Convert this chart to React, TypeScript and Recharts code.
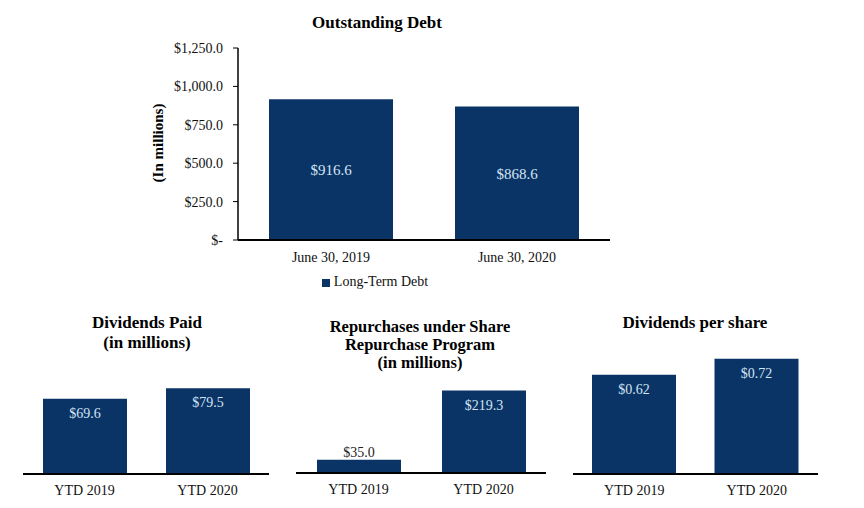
import React from 'react';
import { BarChart, Bar, XAxis, YAxis, LabelList, Legend } from 'recharts';

const debtDates = ['June 30, 2019', 'June 30, 2020'];
const debtValues = [916.6, 868.6];
const debtTicks = [0, 250, 500, 750, 1000, 1250];

const ytdLabels = ['YTD 2019', 'YTD 2020'];
const dividendsPaid = [69.6, 79.5];
const repurchases = [35.0, 219.3];
const dividendsPerShare = [0.62, 0.72];

const NAVY = '#0a3466';
const LIGHT = '#d3e4f5';
const FONT = '"Liberation Serif", "Times New Roman", serif';

const debtData = debtDates.map((d, i) => ({ name: d, debt: debtValues[i] }));
const toRows = (vals: number[]) => ytdLabels.map((n, i) => ({ name: n, value: vals[i] }));

const fmtDebt = (v: number) =>
  v === 0 ? '$-' : '$' + v.toLocaleString('en-US', { minimumFractionDigits: 1, maximumFractionDigits: 1 });

function Title({ lines, cx, top, lh, size = 17 }: { lines: string[]; cx: number; top: number; lh: number; size?: number }) {
  return (
    <div
      style={{
        position: 'absolute',
        left: cx - 150,
        top,
        width: 300,
        textAlign: 'center',
        fontFamily: FONT,
        fontWeight: 'bold',
        fontSize: size,
        lineHeight: lh + 'px',
        color: '#000',
      }}
    >
      {lines.map((l) => (
        <div key={l}>{l}</div>
      ))}
    </div>
  );
}

// label inside the top of the bar, or above it if the bar is too short
const makeLabel = (digits: number) => (props: any) => {
  const { x, y, width, height, value } = props;
  const text = '$' + Number(value).toFixed(digits);
  const short = height < 25;
  return (
    <text
      x={x + width / 2}
      y={short ? y - 3 : y + 19}
      textAnchor="middle"
      fill={short ? '#222' : LIGHT}
      fontSize={14}
      fontFamily={FONT}
    >
      {text}
    </text>
  );
};

function SmallChart({
  data,
  left,
  width,
  margin,
  max,
  digits,
}: {
  data: { name: string; value: number }[];
  left: number;
  width: number;
  margin: { top: number; right: number; bottom: number; left: number };
  max: number;
  digits: number;
}) {
  return (
    <div style={{ position: 'absolute', left, top: 300 }}>
      <BarChart width={width} height={208} data={data} margin={margin}>
        <XAxis
          dataKey="name"
          tickLine={false}
          axisLine={{ stroke: '#000', strokeWidth: 2 }}
          tick={{ fill: '#111', fontSize: 14, fontFamily: FONT }}
          tickMargin={5}
          height={30}
        />
        <YAxis hide domain={[0, max]} />
        <Bar dataKey="value" fill={NAVY} barSize={84} isAnimationActive={false}>
          <LabelList dataKey="value" content={makeLabel(digits)} />
        </Bar>
      </BarChart>
    </div>
  );
}

export default function App() {
  return (
    <div style={{ position: 'absolute', left: 0, top: 0, width: 864, height: 508, background: '#fff' }}>
      <Title lines={['Outstanding Debt']} cx={377} top={13} lh={20} />
      <svg style={{ position: 'absolute', left: 140, top: 85 }} width={30} height={120}>
        <text
          x={0}
          y={0}
          transform="translate(23,58) rotate(-90)"
          textAnchor="middle"
          fontFamily={FONT}
          fontWeight="bold"
          fontSize={15}
          fill="#000"
        >
          (In millions)
        </text>
      </svg>
      <div style={{ position: 'absolute', left: 0, top: 0 }}>
        <BarChart width={640} height={300} data={debtData} margin={{ top: 48, right: 30, bottom: 30, left: 140 }}>
          <XAxis
            dataKey="name"
            tickLine={false}
            axisLine={{ stroke: '#000', strokeWidth: 2 }}
            tick={{ fill: '#111', fontSize: 14, fontFamily: FONT }}
            tickMargin={6}
            height={30}
          />
          <YAxis
            width={98}
            domain={[0, 1250]}
            ticks={debtTicks}
            tickFormatter={fmtDebt}
            tickSize={5}
            tickMargin={10}
            axisLine={{ stroke: '#000', strokeWidth: 1.5 }}
            tickLine={{ stroke: '#000' }}
            tick={{ fill: '#111', fontSize: 14, fontFamily: FONT }}
          />
          <Legend
            verticalAlign="middle"
            align="center"
            layout="horizontal"
            iconType="square"
            iconSize={8}
            wrapperStyle={{ top: 274, left: 300, width: 160, fontFamily: FONT, fontSize: 14 }}
            formatter={(v: string) => <span style={{ color: '#111' }}>{v}</span>}
          />
          <Bar dataKey="debt" name="Long-Term Debt" fill={NAVY} barSize={124} isAnimationActive={false}>
            <LabelList
              dataKey="debt"
              position="center"
              fill={LIGHT}
              fontSize={15}
              fontFamily={FONT}
              formatter={(v: any) => '$' + Number(v).toFixed(1)}
            />
          </Bar>
        </BarChart>
      </div>

      <Title lines={['Dividends Paid', '(in millions)']} cx={147} top={313} lh={20} />
      <SmallChart
        data={toRows(dividendsPaid)}
        left={0}
        width={290}
        margin={{ top: 66, right: 21, bottom: 4, left: 23 }}
        max={100}
        digits={1}
      />

      <Title
        lines={['Repurchases under Share', 'Repurchase Program', '(in millions)']}
        cx={420}
        top={318}
        lh={18}
        size={16.5}
      />
      <SmallChart
        data={toRows(repurchases)}
        left={290}
        width={280}
        margin={{ top: 79, right: 24, bottom: 5, left: 6 }}
        max={250}
        digits={1}
      />

      <Title lines={['Dividends per share']} cx={695} top={313} lh={20} />
      <SmallChart
        data={toRows(dividendsPerShare)}
        left={570}
        width={294}
        margin={{ top: 46, right: 46, bottom: 4, left: 3 }}
        max={0.8}
        digits={2}
      />
    </div>
  );
}
